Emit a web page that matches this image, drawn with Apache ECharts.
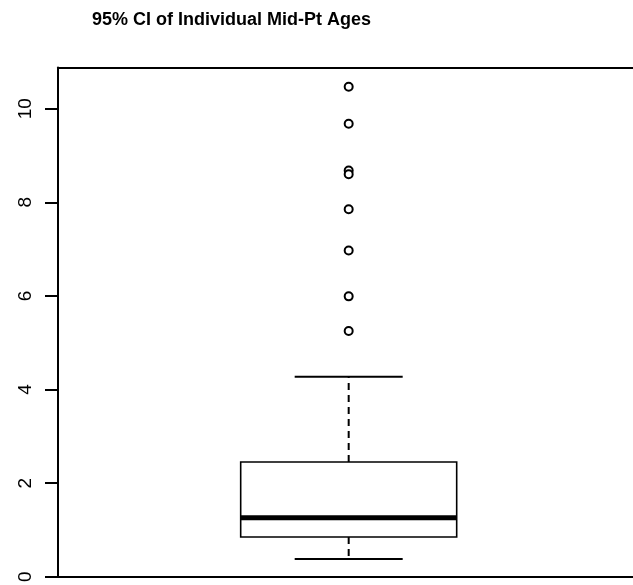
<!DOCTYPE html>
<html>
<head>
<meta charset="utf-8">
<script src="https://cdn.jsdelivr.net/npm/echarts@6/dist/echarts.min.js"></script>
<style>
  html, body { margin: 0; padding: 0; background: #fff; }
  #chart { width: 633px; height: 585px; }
</style>
</head>
<body>
<div id="chart"></div>
<script>
// Five-number summary of the 95% CI mid-point ages (whisker low, Q1, median, Q3, whisker high)
const boxStats = [0.38, 0.85, 1.26, 2.45, 4.27];
// Points beyond the upper whisker
const outliers = [10.47, 9.68, 8.68, 8.60, 7.85, 6.97, 5.99, 5.25];
// Y-axis tick labels
const yTicks = [0, 2, 4, 6, 8, 10];

const FONT = 'Liberation Sans, Arial, Helvetica, sans-serif';
const BOX_HALF = 0.2;    // half-width of the box in x units
const CAP_HALF = 0.1;    // half-width of the whisker caps

const chart = echarts.init(document.getElementById('chart'), null, { renderer: 'canvas' });

function renderBox(params, api) {
  const x = api.value(0);
  const lo = api.value(1), q1 = api.value(2), med = api.value(3), q3 = api.value(4), hi = api.value(5);
  const p = (xv, yv) => api.coord([xv, yv]);
  const bl = p(x - BOX_HALF, q1), tr = p(x + BOX_HALF, q3);
  const black = '#000';
  const dash = { stroke: black, lineWidth: 2, lineDash: [7, 5] };
  const solid = { stroke: black, lineWidth: 2 };
  const line = (a, b, style) => ({
    type: 'line',
    shape: { x1: a[0], y1: a[1], x2: b[0], y2: b[1] },
    style: style
  });
  return {
    type: 'group',
    children: [
      line(p(x, q3), p(x, hi), dash),
      line(p(x, q1), p(x, lo), dash),
      line(p(x - CAP_HALF, hi), p(x + CAP_HALF, hi), solid),
      line(p(x - CAP_HALF, lo), p(x + CAP_HALF, lo), solid),
      {
        type: 'rect',
        shape: { x: bl[0], y: tr[1], width: tr[0] - bl[0], height: bl[1] - tr[1] },
        style: { fill: '#fff', stroke: black, lineWidth: 1.6 }
      },
      line(p(x - BOX_HALF, med), p(x + BOX_HALF, med), { stroke: black, lineWidth: 5 })
    ]
  };
}

// The plot frame runs past the right edge of the canvas, so the x range is
// offset to keep the single box where it sits in the full frame.
const X_MIN = 0.4617, X_MAX = 1.5265;

const option = {
  backgroundColor: '#fff',
  animation: false,
  title: {
    text: '95% CI of Individual Mid-Pt Ages',
    left: 87,
    top: 6,
    textStyle: { fontFamily: FONT, fontSize: 18, fontWeight: 'bold', color: '#000' }
  },
  grid: {
    left: 58, top: 67.5, right: 0, bottom: 7
  },
  xAxis: [
    {
      type: 'value', min: X_MIN, max: X_MAX, position: 'bottom',
      axisLine: { show: true, onZero: false, lineStyle: { color: '#000', width: 2 } },
      axisTick: { show: false }, axisLabel: { show: false }, splitLine: { show: false }
    },
    {
      type: 'value', min: X_MIN, max: X_MAX, position: 'top',
      axisLine: { show: true, onZero: false, lineStyle: { color: '#000', width: 2 } },
      axisTick: { show: false }, axisLabel: { show: false }, splitLine: { show: false }
    }
  ],
  yAxis: {
    type: 'value', min: 0, max: 10.88,
    axisLine: { show: true, onZero: false, lineStyle: { color: '#000', width: 2 } },
    axisTick: { show: true, length: 13, customValues: yTicks, lineStyle: { color: '#000', width: 2 } },
    axisLabel: {
      customValues: yTicks, rotate: 90, margin: 23,
      color: '#000', fontFamily: FONT, fontSize: 19
    },
    splitLine: { show: false }
  },
  series: [
    {
      type: 'custom',
      renderItem: renderBox,
      data: [[1].concat(boxStats)],
      z: 2
    },
    {
      type: 'scatter',
      data: outliers.map(v => [1, v]),
      symbol: 'circle',
      symbolSize: 8,
      itemStyle: { color: '#fff', borderColor: '#000', borderWidth: 2, opacity: 1 },
      z: 3
    }
  ]
};

chart.setOption(option);
</script>
</body>
</html>
